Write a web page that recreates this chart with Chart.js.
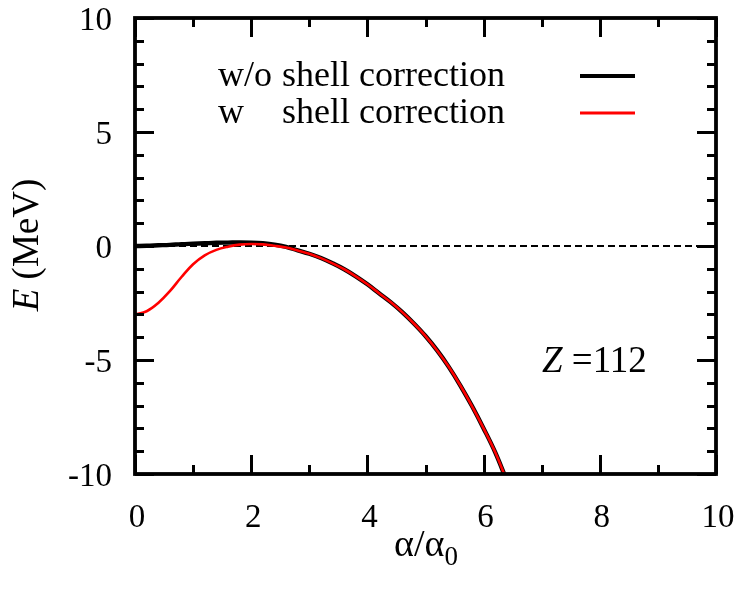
<!DOCTYPE html>
<html><head><meta charset="utf-8">
<script src="https://cdn.jsdelivr.net/npm/chart.js@4"></script>
<style>html,body{margin:0;padding:0;background:#fff}#wrap{width:750px;height:591px}</style>
</head><body><div id="wrap"><canvas id="c" width="750" height="591"></canvas></div>
<script>
// ---- data ----
const alphaNoShell = [0,0.2,0.4,0.6,0.8,1.0,1.2,1.4,1.6,1.8,2.0,2.2,2.4,2.6,2.8,3.0,3.2,3.4,3.6,3.8,4.0,4.2,4.4,4.6,4.8,5.0,5.2,5.4,5.6,5.8,6.0,6.2,6.4];
const energyNoShell = [0,0.01,0.03,0.05,0.08,0.1,0.12,0.14,0.15,0.16,0.15,0.12,0.06,-0.04,-0.19,-0.34,-0.53,-0.76,-1.02,-1.33,-1.68,-2.07,-2.46,-2.9,-3.4,-3.95,-4.58,-5.3,-6.12,-7.02,-8.0,-9.05,-10.3];
const alphaShell = [0,0.2,0.4,0.6,0.8,1.0,1.2,1.4,1.6,1.8,2.0,2.2,2.4,2.6,2.8,3.0,3.2,3.4,3.6,3.8,4.0,4.2,4.4,4.6,4.8,5.0,5.2,5.4,5.6,5.8,6.0,6.2,6.4];
const energyShell = [-3.0,-2.86,-2.5,-1.98,-1.36,-0.8,-0.41,-0.17,-0.03,0.06,0.09,0.07,0.01,-0.07,-0.2,-0.34,-0.53,-0.76,-1.02,-1.33,-1.68,-2.07,-2.46,-2.9,-3.4,-3.95,-4.58,-5.3,-6.12,-7.02,-8.0,-9.05,-10.3];
const refLineX = [0,10];
const refLineY = [0,0];
const xMajorTicks = [0,2,4,6,8,10];
const xMinorTicks = [1,3,5,7,9];
const xTickLabels = ['0','2','4','6','8','10'];
const yMajorTicks = [-10,-5,0,5,10];
const yMinorTicks = [-9,-8,-7,-6,-4,-3,-2,-1,1,2,3,4,6,7,8,9];
const yTickLabels = ['-10','-5','0','5','10'];
const seriesNames = ['w/o shell correction','w    shell correction'];
const nucleusLabel = 'Z =112';

const pts = (xs, ys) => xs.map((x, i) => ({x, y: ys[i]}));
const SERIF = '"Liberation Serif", "DejaVu Serif", serif';

const decor = {
  id: 'decor',
  afterDraw(chart) {
    const ctx = chart.ctx, ca = chart.chartArea;
    const xs = chart.scales.x, ys = chart.scales.y;
    ctx.save();
    ctx.strokeStyle = '#000';
    ctx.lineCap = 'butt';
    // ticks
    const MAJ = 19, MIN = 9;
    ctx.lineWidth = 3;
    const vt = (v, len) => {
      const p = Math.round(xs.getPixelForValue(v)) + 0.5;
      ctx.beginPath();
      ctx.moveTo(p, ca.bottom); ctx.lineTo(p, ca.bottom - len);
      ctx.moveTo(p, ca.top); ctx.lineTo(p, ca.top + len);
      ctx.stroke();
    };
    const ht = (v, len) => {
      const p = Math.round(ys.getPixelForValue(v)) + 0.5;
      ctx.beginPath();
      ctx.moveTo(ca.left, p); ctx.lineTo(ca.left + len, p);
      ctx.moveTo(ca.right, p); ctx.lineTo(ca.right - len, p);
      ctx.stroke();
    };
    xMajorTicks.forEach(v => vt(v, MAJ));
    xMinorTicks.forEach(v => vt(v, MIN));
    yMajorTicks.forEach(v => ht(v, MAJ));
    yMinorTicks.forEach(v => ht(v, MIN));
    // frame
    ctx.lineWidth = 3.8;
    ctx.strokeRect(ca.left, ca.top, ca.right - ca.left, ca.bottom - ca.top);

    // tick labels
    ctx.fillStyle = '#000';
    ctx.font = '33px ' + SERIF;
    ctx.textAlign = 'right'; ctx.textBaseline = 'middle';
    yMajorTicks.forEach((v, i) => ctx.fillText(yTickLabels[i], 112, ys.getPixelForValue(v) + 3));
    ctx.textAlign = 'center';
    xMajorTicks.forEach((v, i) => ctx.fillText(xTickLabels[i], xs.getPixelForValue(v) + 2, 518));

    // x title: α/α0
    ctx.textAlign = 'left';
    const main = 'α/α';
    ctx.font = '38px ' + SERIF;
    const wMain = ctx.measureText(main).width;
    ctx.font = '27px ' + SERIF;
    const wSub = ctx.measureText('0').width;
    const x0 = 426 - (wMain + wSub) / 2;
    ctx.font = '38px ' + SERIF;
    ctx.fillText(main, x0, 546);
    ctx.font = '27px ' + SERIF;
    ctx.fillText('0', x0 + wMain, 558);

    // y title: E (MeV)
    ctx.save();
    ctx.translate(28, 245);
    ctx.rotate(-Math.PI / 2);
    ctx.font = 'italic 37px ' + SERIF;
    const wE = ctx.measureText('E').width;
    ctx.font = '37px ' + SERIF;
    const wRest = ctx.measureText(' (MeV)').width;
    const sx = -(wE + wRest) / 2;
    ctx.textAlign = 'left';
    ctx.font = 'italic 37px ' + SERIF;
    ctx.fillText('E', sx, 0);
    ctx.font = '37px ' + SERIF;
    ctx.fillText(' (MeV)', sx + wE, 0);
    ctx.restore();

    // Z label
    ctx.textAlign = 'left';
    ctx.font = 'italic 37px ' + SERIF;
    ctx.fillText(nucleusLabel.charAt(0), 542, 362);
    const wZ = ctx.measureText(nucleusLabel.charAt(0)).width;
    ctx.font = '37px ' + SERIF;
    ctx.fillText(nucleusLabel.slice(1), 542 + wZ, 362);

    // legend
    ctx.font = '36px ' + SERIF;
    const rx = 505, lx = 218;
    const first = seriesNames[0].split(' ');
    const second = seriesNames[1].split(/\s+/);
    ctx.textAlign = 'left';
    ctx.fillText(first[0], lx, 77);
    ctx.fillText(second[0], lx, 114);
    ctx.textAlign = 'right';
    ctx.fillText(first.slice(1).join(' '), rx, 77);
    ctx.fillText(second.slice(1).join(' '), rx, 114);
    ctx.lineWidth = 4; ctx.strokeStyle = '#000';
    ctx.beginPath(); ctx.moveTo(580, 76); ctx.lineTo(635, 76); ctx.stroke();
    ctx.lineWidth = 3; ctx.strokeStyle = '#ff0000';
    ctx.beginPath(); ctx.moveTo(580, 113); ctx.lineTo(635, 113); ctx.stroke();
    ctx.restore();
  }
};

new Chart(document.getElementById('c'), {
  type: 'scatter',
  data: {
    datasets: [
      { label: seriesNames[1], data: pts(alphaShell, energyShell), showLine: true, borderColor: '#ff0000', borderWidth: 2.6, pointRadius: 0, tension: 0.4, fill: false },
      { label: seriesNames[0], data: pts(alphaNoShell, energyNoShell), showLine: true, borderColor: '#000000', borderWidth: 4.4, pointRadius: 0, tension: 0.4, fill: false },
      { label: 'zero', data: pts(refLineX, refLineY), showLine: true, borderColor: '#000000', borderWidth: 2.2, borderDash: [7, 4], pointRadius: 0, fill: false }
    ]
  },
  options: {
    responsive: false,
    animation: false,
    devicePixelRatio: 1,
    layout: { padding: { left: 135, right: 34, top: 18, bottom: 117 } },
    scales: {
      x: { type: 'linear', min: 0, max: 10, display: false },
      y: { type: 'linear', min: -10, max: 10, display: false }
    },
    plugins: { legend: { display: false }, tooltip: { enabled: false } }
  },
  plugins: [decor]
});
</script>
</body></html>
